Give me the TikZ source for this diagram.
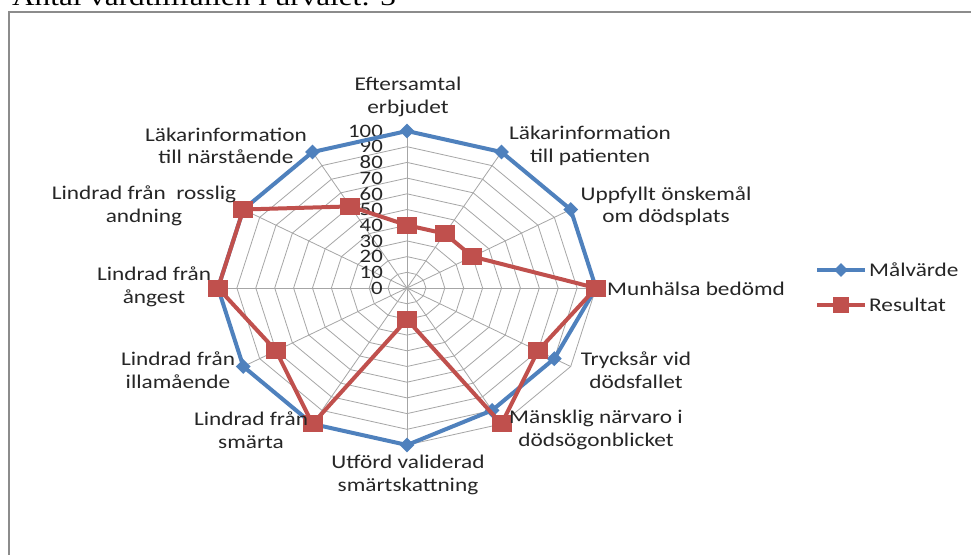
\documentclass[tikz,border=0pt]{standalone}
\usepackage{fontspec}
\setmainfont{Carlito}[FakeStretch=1.2]
\newfontfamily\titlefont{Liberation Serif}[FakeStretch=1.2]
\usetikzlibrary{shapes.geometric}
\definecolor{mblue}{HTML}{4F81BD}
\definecolor{mred}{HTML}{C0504D}
\definecolor{gridc}{HTML}{A6A6A6}
\definecolor{framec}{HTML}{8C8C8C}
\tikzset{
  gridline/.style={draw=gridc, line width=0.8pt},
  blueline/.style={draw=mblue, line width=4pt, line join=round},
  redline/.style={draw=mred, line width=4pt, line join=round},
  bmark/.style={diamond, aspect=1, fill=mblue, inner sep=0pt, minimum width=15pt, minimum height=15pt},
  rmark/.style={rectangle, fill=mred, inner sep=0pt, minimum width=20pt, minimum height=17pt},
  lab/.style={align=center, inner sep=0pt, font=\fontsize{19.4}{22.5}\selectfont, text=black!85},
  tick/.style={anchor=east, inner sep=0pt, font=\fontsize{19}{20}\selectfont, text=black!85},
}
\begin{document}
\begin{tikzpicture}[x=1pt,y=-1pt]
\useasboundingbox (0,0) rectangle (971,554);
\fill[white] (0,0) rectangle (971,554);
% title (cut at top)
\node[anchor=base west, inner sep=0pt, font=\titlefont\fontsize{26}{30}\selectfont] (title) at (12,5.5) {Antal vårdtillfällen i urvalet: 3};
% frame
\draw[framec, line width=2pt] (8.5,560) -- (8.5,12) -- (980,12);
% grid rings
\foreach \v in {10,20,...,100} {
  \draw[gridline] ({407+\v*1.89*cos(90)},{288-\v*1.57*sin(90)})
    \foreach \k in {1,...,11} { -- ({407+\v*1.89*cos(90-30*\k)},{288-\v*1.57*sin(90-30*\k)}) } -- cycle;
}
\coordinate (c) at (407,288);
\foreach \k in {0,...,11} {
  \coordinate (s\k) at ({407+189*cos(90-30*\k)},{288-157*sin(90-30*\k)});
  \draw[gridline] (c) -- (s\k);
}
% tick labels
\foreach \v in {0,10,...,100} {
  \node[tick] (t\v) at (383,{288-\v*1.57}) {\v};
}
% data points
\foreach \v [count=\j from 0] in {100,100,100,100,90,90,100,100,100,100,100,100} {
  \coordinate (b\j) at ({407+\v*1.89*cos(90-30*\j)},{288-\v*1.57*sin(90-30*\j)});
}
\foreach \v [count=\j from 0] in {40,40,40,100,80,100,20,100,80,100,100,60} {
  \coordinate (r\j) at ({407+\v*1.89*cos(90-30*\j)},{288-\v*1.57*sin(90-30*\j)});
}
\draw[blueline] (b0) -- (b1) -- (b2) -- (b3) -- (b4) -- (b5) -- (b6) -- (b7) -- (b8) -- (b9) -- (b10) -- (b11) -- cycle;
\foreach \k in {0,...,11} { \node[bmark] (bm\k) at (b\k) {}; }
\draw[redline] (r0) -- (r1) -- (r2) -- (r3) -- (r4) -- (r5) -- (r6) -- (r7) -- (r8) -- (r9) -- (r10) -- (r11) -- cycle;
\foreach \k in {0,...,11} { \node[rmark] (rm\k) at (r\k) {}; }
% axis labels
\node[lab] (l0) at (408,97) {Eftersamtal\\erbjudet};
\node[lab] (l1) at (590,146) {Läkarinformation\\till patienten};
\node[lab] (l2) at (666,206) {Uppfyllt önskemål\\om dödsplats};
\node[lab, anchor=west] (l3) at (607,289) {Munhälsa bedömd};
\node[lab] (l4) at (636,370) {Trycksår vid\\dödsfallet};
\node[lab] (l5) at (596,430) {Mänsklig närvaro i\\dödsögonblicket};
\node[lab] (l6) at (408,475) {Utförd validerad\\smärtskattning};
\node[lab] (l7) at (251,430) {Lindrad från\\smärta};
\node[lab] (l8) at (178,370) {Lindrad från\\illamående};
\node[lab] (l9) at (154,287) {Lindrad från\\ångest};
\node[lab] (l10) at (144,206) {Lindrad från\ \ rosslig\\andning};
\node[lab] (l11) at (226,146) {Läkarinformation\\till närstående};
% legend
\coordinate (lb1) at (817,270);
\coordinate (lb2) at (865,270);
\coordinate (lr1) at (817,305);
\coordinate (lr2) at (865,305);
\draw[draw=mblue, line width=3.5pt] (lb1) -- (lb2);
\node[bmark, minimum width=14pt, minimum height=14pt] (lbm) at (841,270) {};
\node[lab, anchor=west] (lbt) at (869,270) {Målvärde};
\draw[draw=mred, line width=3.5pt] (lr1) -- (lr2);
\node[rmark, minimum width=16pt, minimum height=16pt] (lrm) at (841,305) {};
\node[lab, anchor=west] (lrt) at (869,305) {Resultat};
\end{tikzpicture}
\end{document}
